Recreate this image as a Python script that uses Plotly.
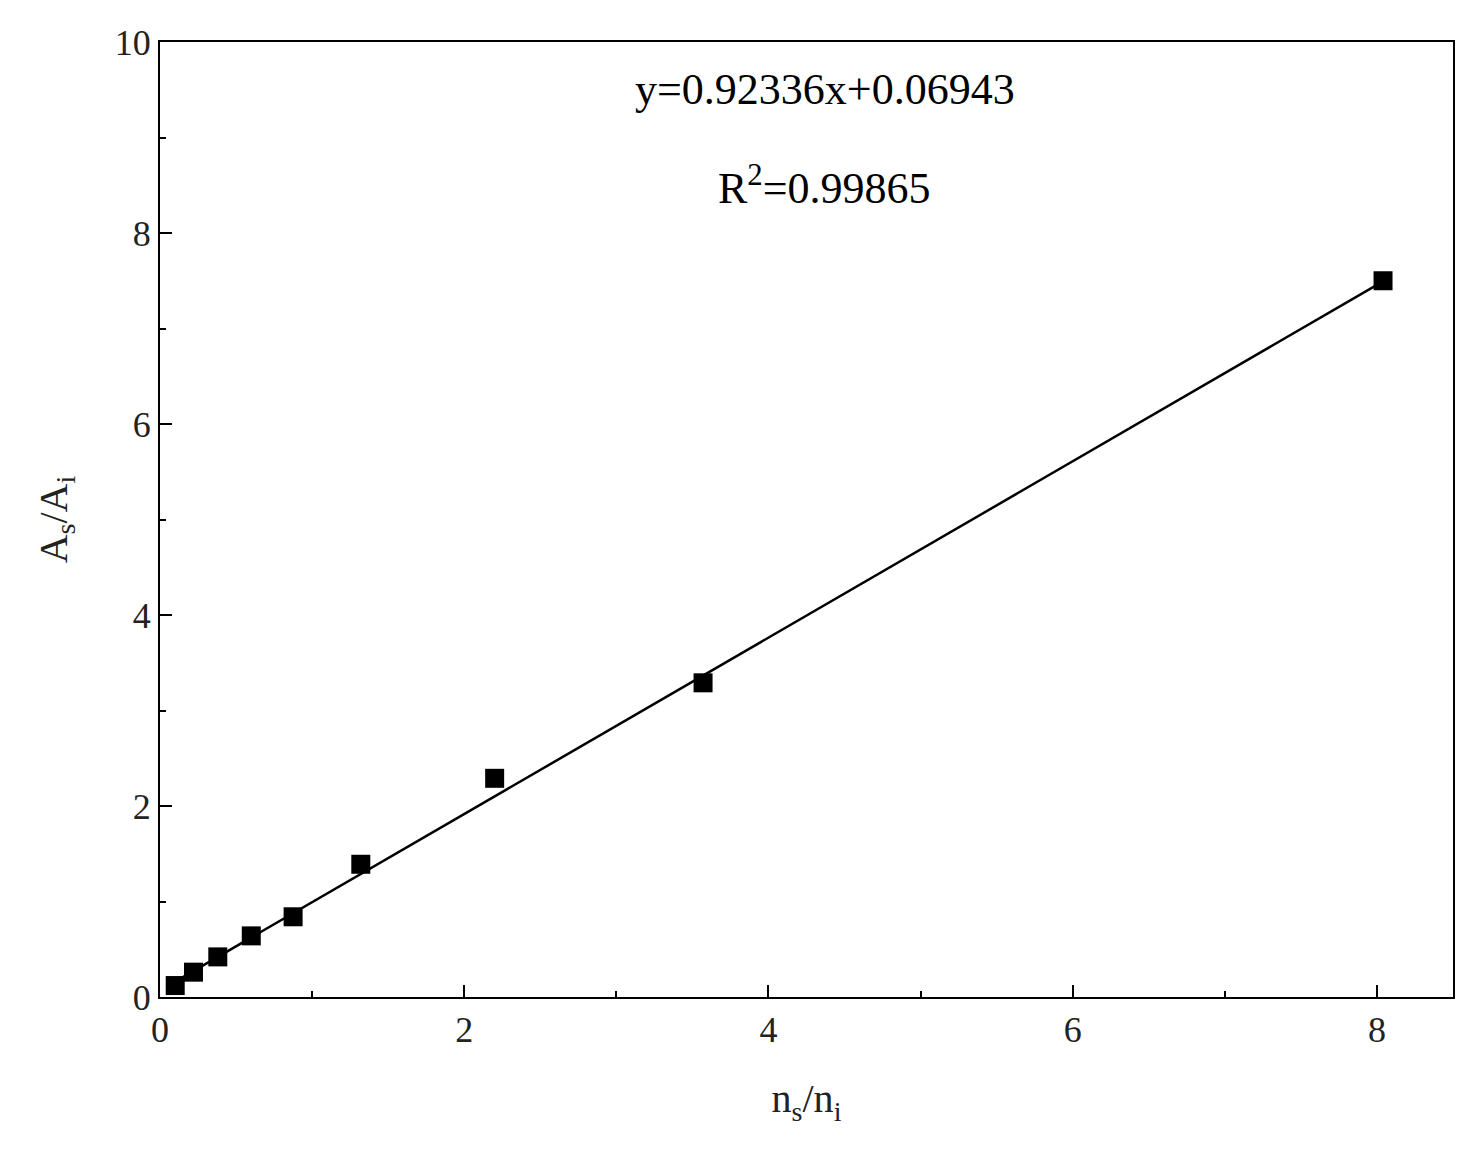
import plotly.graph_objects as go

x_vals = [0.1, 0.22, 0.38, 0.6, 0.875, 1.32, 2.2, 3.57, 8.04]
y_vals = [0.12, 0.26, 0.42, 0.64, 0.84, 1.39, 2.29, 3.29, 7.5]
slope = 0.92336
intercept = 0.06943
fit_x = [0.1, 8.04]
fit_y = [slope * v + intercept for v in fit_x]

font = "Liberation Serif, Times New Roman, serif"
fig = go.Figure()
fig.add_trace(go.Scatter(x=fit_x, y=fit_y, mode="lines", line=dict(color="black", width=2.5), showlegend=False))
fig.add_trace(go.Scatter(x=x_vals, y=y_vals, mode="markers",
                         marker=dict(symbol="square", size=19, color="black"), showlegend=False))
axis = dict(showline=True, linecolor="black", linewidth=2, mirror=True, ticks="inside",
            ticklen=12, tickwidth=2, tickcolor="black", showgrid=False, zeroline=False,
            tickfont=dict(family=font, size=36, color="#222"),
            minor=dict(ticks="inside", ticklen=6, tickwidth=2, tickcolor="black", dtick=1))
fig.update_xaxes(range=[0, 8.5], dtick=2, title=dict(text="n<sub>s</sub>/n<sub>i</sub>", font=dict(family=font, size=40, color="#222"), standoff=35), **axis)
fig.update_yaxes(range=[0, 10], dtick=2, title=dict(text="A<sub>s</sub>/A<sub>i</sub>", font=dict(family=font, size=40, color="#222"), standoff=35), **axis)
fig.add_annotation(x=4.37, y=9.5, xref="x", yref="y", text="y=0.92336x+0.06943", showarrow=False,
                   font=dict(family=font, size=44, color="black"))
fig.add_annotation(x=4.37, y=8.5, xref="x", yref="y", text="R<sup>2</sup>=0.99865", showarrow=False,
                   font=dict(family=font, size=44, color="black"))
fig.update_layout(width=1477, height=1155, margin=dict(l=152, r=32, t=34, b=166),
                  plot_bgcolor="white", paper_bgcolor="white")
fig.write_html("out.html")
